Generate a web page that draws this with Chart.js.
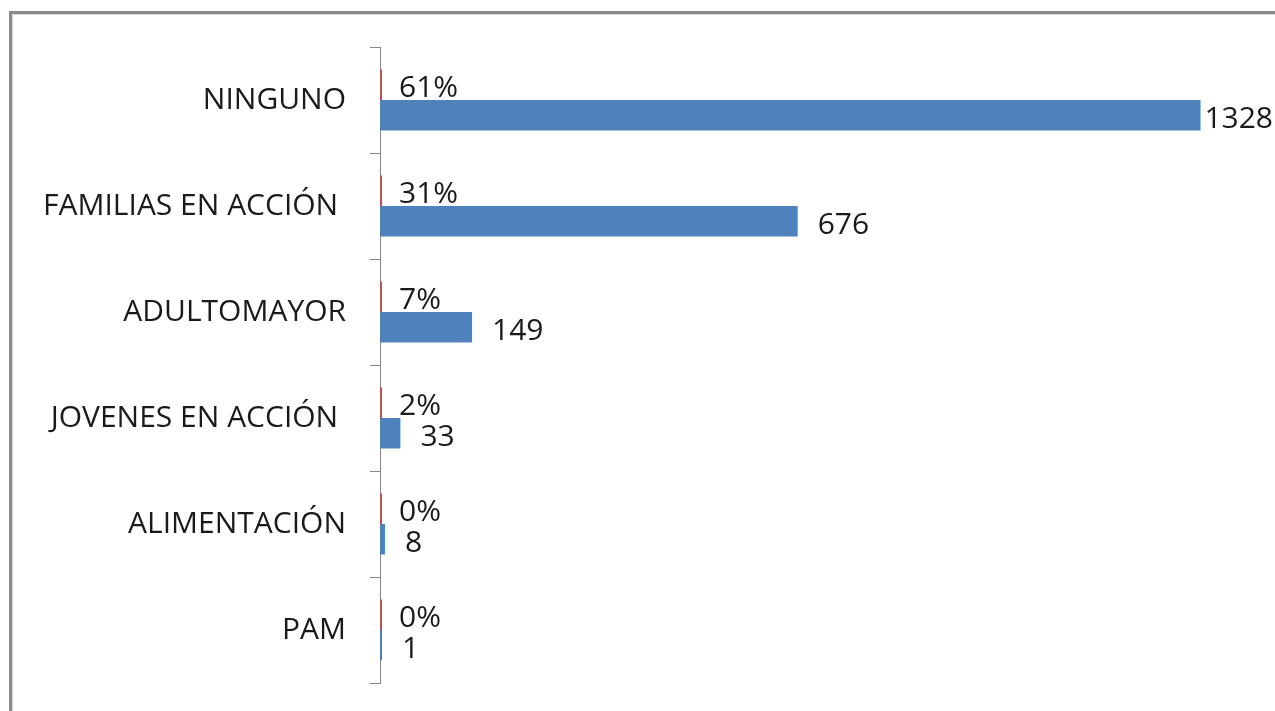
<!DOCTYPE html>
<html>
<head>
<meta charset="utf-8">
<script src="https://cdn.jsdelivr.net/npm/chart.js@4.4.1/dist/chart.umd.min.js"></script>
<style>
  html, body { margin: 0; padding: 0; background: #fff; }
  #wrap { position: relative; width: 1275px; height: 711px; overflow: hidden; }
  #frame {
    position: absolute; left: 9px; top: 11px; width: 1300px; height: 760px;
    border-top: 3px solid #8a8a8a; border-left: 3px solid #8a8a8a;
    box-shadow: inset 1px 1px 0 #d9d9d9;
  }
  #chartBox { position: absolute; left: 0; top: 0; width: 1275px; height: 711px; }
</style>
</head>
<body>
<div id="wrap">
  <div id="frame"></div>
  <div id="chartBox"><canvas id="chart"></canvas></div>
</div>
<script>
// --- data ---
const categories = ['NINGUNO', 'FAMILIAS EN ACCIÓN ', 'ADULTOMAYOR', 'JOVENES EN ACCIÓN ', 'ALIMENTACIÓN', 'PAM'];
const shares = [0.61, 0.31, 0.07, 0.02, 0.00, 0.00];   // red series (fraction of total)
const counts = [1328, 676, 149, 33, 8, 1];             // blue series
const xMax = 1400;

const FONT = "'Open Sans', 'DejaVu Sans', sans-serif";
const FONT_SIZE = 30;

// value labels next to each bar (Excel style)
const barLabels = {
  id: 'barLabels',
  afterDatasetsDraw(chart) {
    const ctx = chart.ctx;
    ctx.save();
    ctx.font = FONT_SIZE + 'px ' + FONT;
    ctx.fillStyle = '#1a1a1a';
    ctx.textBaseline = 'middle';
    ctx.textAlign = 'left';
    chart.data.datasets.forEach((ds, di) => {
      const meta = chart.getDatasetMeta(di);
      meta.data.forEach((bar, i) => {
        const v = ds.data[i];
        let text, x;
        if (di === 0) {
          text = Math.round(v * 100) + '%';
          x = bar.x + 17;
        } else {
          text = String(v);
          x = bar.x + 20;
          const w = ctx.measureText(text).width;
          if (x + w > chart.width - 2) x = chart.width - 2 - w;
        }
        ctx.fillText(text, x, bar.y + 4);
      });
    });
    ctx.restore();
  }
};

new Chart(document.getElementById('chart'), {
  type: 'bar',
  data: {
    labels: categories,
    datasets: [
      {
        label: 'Porcentaje',
        data: shares,
        backgroundColor: '#c0504d',
        minBarLength: 2,
        barPercentage: 1,
        categoryPercentage: 0.575
      },
      {
        label: 'Cantidad',
        data: counts,
        backgroundColor: '#4f81bd',
        minBarLength: 2,
        barPercentage: 1,
        categoryPercentage: 0.575
      }
    ]
  },
  options: {
    indexAxis: 'y',
    responsive: true,
    maintainAspectRatio: false,
    animation: false,
    layout: { padding: { top: 47, bottom: 28, right: 30, left: 0 } },
    plugins: {
      legend: { display: false },
      tooltip: { enabled: false }
    },
    scales: {
      x: {
        display: false,
        min: 0,
        max: xMax
      },
      y: {
        afterFit(scale) {
          scale.width = 380;
          scale.paddingTop = 0;
          scale.paddingBottom = 0;
        },
        border: { display: true, color: '#868686', width: 1 },
        grid: {
          offset: true,
          drawOnChartArea: false,
          drawTicks: true,
          tickLength: 10,
          color: '#868686'
        },
        ticks: {
          color: '#1a1a1a',
          padding: 24,
          font: { family: FONT, size: FONT_SIZE }
        }
      }
    }
  },
  plugins: [barLabels]
});
</script>
</body>
</html>
